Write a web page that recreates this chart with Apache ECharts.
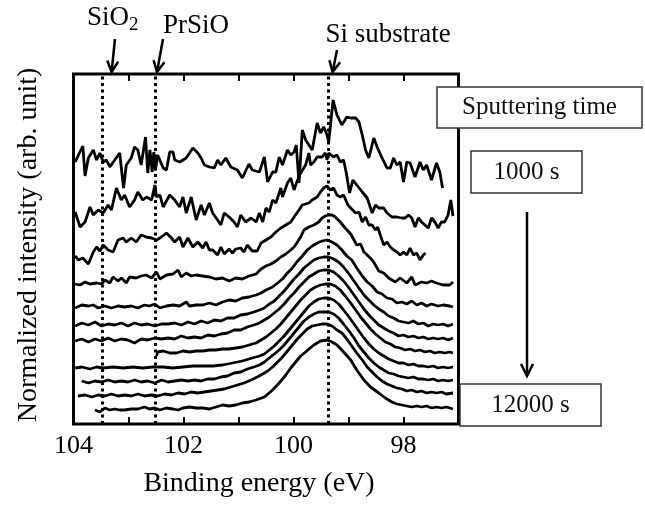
<!DOCTYPE html>
<html><head><meta charset="utf-8">
<script src="https://cdn.jsdelivr.net/npm/echarts@6/dist/echarts.min.js"></script>
<style>html,body{margin:0;padding:0;background:#fff}#c{width:645px;height:505px}</style>
</head><body><div id="c"></div>
<script>
// Binding energy (eV) / normalized intensity (arb. unit), offset spectra, top = 1000 s ... bottom = 12000 s
const s1000 = [[103.97,26.2],[103.83,27.8],[103.79,24.8],[103.73,26.6],[103.64,27.4],[103.58,26.4],[103.52,27.1],[103.46,26.2],[103.40,26.4],[103.34,25.7],[103.25,26.4],[103.16,27.1],[103.13,27.2],[103.09,23.6],[103.04,25.9],[102.95,26.6],[102.89,27.7],[102.83,27.4],[102.77,25.9],[102.69,28.7],[102.65,25.1],[102.61,27.4],[102.57,25.2],[102.54,27.2],[102.51,25.4],[102.47,26.9],[102.37,25.6],[102.31,25.4],[102.25,27.2],[102.19,27.2],[102.16,26.4],[102.07,26.2],[101.95,26.6],[101.83,27.6],[101.74,27.1],[101.68,26.6],[101.62,25.9],[101.53,25.7],[101.44,25.6],[101.38,26.4],[101.32,25.9],[101.23,26.6],[101.14,25.7],[101.02,25.4],[100.93,24.6],[100.90,24.6],[100.81,26.0],[100.75,25.4],[100.62,25.2],[100.53,26.7],[100.47,24.2],[100.38,25.2],[100.32,25.2],[100.26,26.7],[100.20,25.9],[100.11,27.4],[100.05,26.9],[99.99,27.2],[99.95,27.9],[99.90,24.1],[99.84,29.4],[99.78,28.4],[99.72,27.9],[99.66,27.4],[99.57,30.1],[99.51,29.1],[99.45,29.7],[99.39,28.9],[99.36,28.2],[99.28,32.4],[99.21,30.9],[99.12,29.9],[99.03,30.7],[98.96,30.6],[98.87,30.6],[98.81,30.2],[98.75,28.9],[98.69,27.4],[98.63,26.6],[98.54,28.6],[98.48,27.7],[98.39,26.6],[98.30,25.6],[98.24,25.6],[98.18,26.6],[98.12,25.9],[98.06,26.2],[98.00,24.2],[97.94,26.2],[97.88,26.1],[97.79,24.7],[97.70,26.2],[97.64,25.4],[97.58,25.9],[97.49,24.4],[97.40,26.1],[97.34,25.2],[97.29,23.6]];
const s2000 = [[103.97,21.2],[103.88,19.7],[103.79,20.2],[103.70,21.7],[103.64,20.9],[103.55,21.4],[103.46,21.1],[103.37,21.9],[103.31,21.4],[103.22,23.6],[103.13,22.4],[103.07,22.9],[102.98,21.7],[102.89,22.4],[102.83,23.2],[102.74,22.4],[102.67,22.7],[102.58,22.4],[102.52,23.9],[102.49,22.7],[102.43,22.9],[102.37,21.7],[102.25,22.9],[102.16,22.4],[102.07,21.7],[102.01,22.7],[101.95,21.1],[101.86,22.7],[101.77,20.4],[101.68,21.9],[101.62,20.9],[101.53,22.1],[101.47,21.1],[101.38,20.4],[101.32,19.9],[101.26,21.1],[101.17,20.7],[101.08,20.2],[101.02,19.7],[100.96,20.9],[100.87,20.2],[100.77,20.6],[100.68,20.2],[100.62,21.1],[100.56,20.2],[100.50,21.6],[100.44,21.2],[100.38,22.4],[100.32,22.1],[100.23,23.6],[100.20,22.7],[100.11,24.1],[100.05,24.6],[99.99,23.4],[99.94,24.2],[99.87,25.1],[99.78,25.9],[99.72,27.1],[99.69,25.9],[99.63,26.2],[99.57,26.7],[99.48,26.7],[99.42,27.1],[99.39,26.4],[99.36,27.1],[99.27,26.7],[99.21,26.9],[99.15,26.2],[99.09,26.4],[99.04,25.1],[98.98,23.1],[98.92,24.4],[98.85,23.9],[98.75,23.2],[98.66,22.6],[98.57,21.1],[98.51,21.9],[98.45,21.6],[98.36,21.6],[98.30,21.1],[98.21,20.7],[98.12,20.7],[98.03,20.6],[97.97,20.6],[97.91,20.9],[97.85,20.6],[97.79,19.7],[97.73,20.6],[97.67,20.2],[97.61,19.9],[97.55,19.6],[97.49,20.6],[97.43,20.2],[97.37,19.6],[97.31,20.2],[97.25,20.2],[97.19,20.9],[97.14,22.4],[97.10,20.8]];
const s3000 = [[103.97,16.8],[103.91,16.4],[103.83,16.6],[103.73,16.0],[103.64,17.2],[103.58,17.7],[103.52,17.3],[103.46,17.9],[103.37,17.4],[103.28,17.2],[103.19,18.4],[103.10,18.6],[103.04,18.2],[102.95,18.6],[102.86,18.2],[102.77,18.9],[102.68,18.7],[102.58,18.6],[102.49,18.4],[102.40,18.7],[102.31,19.1],[102.22,18.6],[102.16,18.2],[102.07,18.7],[102.01,17.7],[101.92,18.6],[101.83,17.7],[101.74,18.2],[101.65,17.6],[101.59,18.2],[101.53,17.4],[101.47,17.4],[101.38,16.9],[101.32,17.7],[101.26,17.0],[101.17,17.5],[101.11,17.1],[101.05,17.5],[100.96,17.6],[100.90,17.2],[100.84,17.9],[100.75,17.3],[100.66,17.3],[100.59,18.1],[100.50,18.4],[100.41,18.7],[100.32,19.2],[100.23,19.6],[100.14,19.9],[100.05,20.2],[99.99,20.7],[99.90,21.4],[99.84,21.9],[99.78,22.0],[99.72,22.1],[99.66,22.4],[99.57,22.7],[99.51,23.2],[99.45,23.6],[99.39,23.8],[99.33,23.4],[99.27,23.6],[99.21,22.9],[99.15,22.7],[99.09,22.9],[99.01,21.9],[98.96,21.6],[98.87,21.1],[98.81,21.2],[98.75,20.2],[98.69,20.7],[98.63,19.9],[98.57,19.9],[98.51,19.4],[98.47,19.7],[98.41,18.7],[98.36,17.9],[98.30,18.2],[98.24,17.7],[98.18,17.4],[98.12,17.2],[98.06,16.9],[98.00,17.2],[97.94,16.9],[97.88,17.6],[97.82,16.9],[97.76,17.1],[97.70,16.4],[97.64,16.9],[97.60,17.1]];
const s4000 = [[103.97,14.0],[103.88,13.9],[103.79,14.2],[103.70,14.0],[103.58,14.1],[103.49,14.0],[103.43,14.4],[103.34,14.1],[103.28,14.7],[103.19,14.3],[103.13,14.6],[103.04,14.1],[102.98,14.7],[102.86,14.6],[102.77,14.8],[102.68,14.9],[102.58,14.6],[102.49,15.2],[102.43,14.5],[102.31,14.9],[102.19,15.0],[102.10,15.4],[102.04,14.7],[101.95,15.1],[101.86,14.8],[101.77,14.9],[101.65,14.8],[101.53,14.7],[101.41,14.5],[101.29,14.6],[101.17,14.3],[101.05,14.6],[100.93,14.5],[100.81,14.8],[100.68,15.0],[100.59,15.5],[100.50,15.8],[100.41,16.0],[100.32,16.3],[100.23,16.7],[100.14,17.0],[100.05,17.4],[99.99,17.7],[99.94,18.1],[99.87,18.7],[99.81,19.4],[99.72,19.7],[99.63,19.9],[99.54,20.2],[99.48,20.6],[99.42,20.8],[99.36,20.9],[99.30,20.9],[99.24,20.7],[99.15,20.2],[99.06,19.6],[98.96,19.0],[98.90,18.4],[98.85,17.9],[98.78,18.0],[98.72,17.2],[98.66,16.9],[98.57,16.4],[98.51,15.9],[98.45,15.3],[98.36,15.1],[98.27,14.6],[98.15,14.2],[98.06,14.6],[97.94,14.1],[97.85,14.7],[97.79,13.9],[97.67,14.2],[97.58,14.1],[97.49,14.3],[97.40,14.1],[97.28,13.9],[97.16,13.9],[97.10,14.2]];
const s5000 = [[103.97,11.6],[103.85,11.9],[103.73,11.8],[103.64,11.9],[103.55,11.6],[103.43,11.8],[103.31,11.6],[103.19,11.8],[103.07,11.7],[102.95,11.8],[102.83,11.6],[102.71,11.9],[102.62,11.8],[102.52,12.0],[102.43,11.6],[102.31,11.8],[102.19,11.9],[102.07,11.8],[101.95,12.2],[101.89,11.8],[101.77,11.9],[101.65,11.9],[101.53,12.1],[101.41,11.9],[101.29,12.2],[101.17,12.4],[101.05,12.3],[100.93,12.6],[100.81,12.7],[100.68,12.9],[100.59,13.1],[100.50,13.4],[100.38,13.7],[100.29,14.1],[100.20,14.5],[100.11,15.1],[100.02,15.6],[99.94,16.2],[99.84,16.8],[99.75,17.4],[99.66,17.8],[99.57,18.1],[99.48,18.3],[99.39,18.4],[99.30,18.2],[99.21,17.9],[99.12,17.4],[99.03,16.8],[98.94,16.4],[98.85,15.6],[98.75,14.8],[98.66,14.2],[98.57,13.8],[98.48,13.2],[98.39,13.0],[98.30,12.6],[98.21,12.5],[98.12,12.1],[98.03,12.2],[97.94,12.0],[97.85,12.3],[97.76,11.9],[97.67,12.1],[97.58,11.8],[97.49,12.0],[97.37,11.8],[97.28,11.9],[97.16,11.8],[97.10,11.7]];
const s6000 = [[103.97,9.8],[103.85,10.1],[103.73,9.9],[103.61,10.2],[103.49,9.8],[103.37,10.0],[103.25,9.9],[103.13,10.1],[103.01,9.8],[102.89,10.1],[102.77,9.9],[102.65,10.0],[102.52,9.8],[102.40,10.0],[102.28,10.0],[102.16,10.1],[102.04,9.9],[101.92,10.2],[101.80,10.0],[101.68,10.3],[101.56,10.1],[101.44,10.4],[101.32,10.3],[101.20,10.6],[101.08,10.6],[100.96,10.9],[100.84,11.0],[100.72,11.2],[100.62,11.4],[100.53,11.6],[100.44,12.0],[100.35,12.3],[100.26,12.8],[100.17,13.3],[100.08,13.9],[99.99,14.5],[99.90,15.0],[99.81,15.6],[99.72,16.0],[99.63,16.4],[99.54,16.6],[99.45,16.7],[99.36,16.7],[99.27,16.5],[99.18,16.2],[99.09,15.7],[98.99,15.0],[98.90,14.3],[98.81,13.6],[98.72,12.9],[98.63,12.4],[98.54,11.9],[98.45,11.5],[98.36,11.2],[98.27,10.8],[98.18,10.6],[98.09,10.3],[98.00,10.2],[97.91,10.1],[97.82,10.3],[97.73,10.0],[97.64,10.1],[97.55,9.8],[97.46,10.0],[97.37,9.9],[97.28,10.0],[97.19,9.8],[97.10,10.0]];
const s7000 = [[103.97,8.3],[103.85,8.5],[103.73,8.2],[103.61,8.5],[103.49,8.3],[103.37,8.6],[103.25,8.3],[103.13,8.5],[103.01,8.4],[102.89,8.1],[102.77,8.5],[102.65,8.4],[102.52,8.6],[102.40,8.5],[102.28,8.6],[102.16,8.5],[102.04,8.8],[101.92,8.6],[101.80,8.7],[101.68,8.6],[101.56,8.9],[101.44,8.8],[101.32,9.0],[101.20,9.1],[101.08,9.4],[100.96,9.4],[100.84,9.7],[100.72,9.9],[100.62,10.1],[100.53,10.4],[100.44,10.7],[100.35,11.1],[100.26,11.5],[100.17,12.0],[100.08,12.6],[99.99,13.1],[99.90,13.7],[99.81,14.2],[99.72,14.7],[99.63,15.0],[99.54,15.3],[99.45,15.4],[99.36,15.4],[99.27,15.2],[99.18,14.8],[99.09,14.3],[98.99,13.6],[98.90,12.9],[98.81,12.2],[98.72,11.5],[98.63,10.9],[98.54,10.4],[98.45,9.9],[98.36,9.6],[98.27,9.3],[98.18,9.1],[98.09,8.8],[98.00,8.9],[97.91,8.7],[97.82,8.8],[97.73,8.6],[97.64,8.7],[97.55,8.5],[97.46,8.6],[97.37,8.5],[97.28,8.6],[97.19,8.4],[97.10,8.6]];
const s8000 = [[102.49,6.8],[102.47,7.2],[102.37,7.3],[102.25,7.1],[102.13,7.1],[102.01,7.3],[101.89,7.2],[101.77,7.3],[101.65,7.3],[101.53,7.4],[101.41,7.4],[101.29,7.5],[101.17,7.5],[101.05,7.6],[100.93,7.7],[100.81,7.9],[100.68,8.1],[100.59,8.4],[100.50,8.7],[100.41,9.1],[100.32,9.5],[100.23,10.0],[100.14,10.6],[100.05,11.2],[99.96,11.8],[99.87,12.4],[99.78,12.9],[99.69,13.4],[99.60,13.7],[99.51,13.9],[99.42,14.0],[99.33,14.0],[99.24,13.8],[99.15,13.4],[99.06,12.8],[98.96,12.1],[98.87,11.4],[98.78,10.7],[98.69,10.1],[98.60,9.5],[98.51,9.0],[98.42,8.6],[98.33,8.2],[98.24,8.0],[98.15,7.7],[98.06,7.6],[97.97,7.4],[97.88,7.5],[97.79,7.3],[97.70,7.4],[97.61,7.2],[97.52,7.3],[97.43,7.1],[97.34,7.2],[97.25,7.1],[97.16,7.2],[97.10,7.1]];
const s9000 = [[103.97,5.6],[103.85,5.7],[103.70,5.5],[103.58,5.7],[103.46,5.6],[103.28,5.7],[103.10,5.6],[102.92,5.7],[102.74,5.6],[102.56,5.7],[102.37,5.7],[102.19,5.6],[102.01,5.7],[101.83,5.8],[101.65,5.8],[101.47,5.8],[101.29,5.9],[101.11,6.1],[100.93,6.3],[100.75,6.6],[100.62,6.8],[100.53,7.0],[100.44,7.4],[100.35,7.8],[100.26,8.3],[100.17,8.8],[100.08,9.4],[99.99,10.0],[99.90,10.6],[99.81,11.2],[99.72,11.8],[99.63,12.2],[99.54,12.5],[99.45,12.6],[99.36,12.6],[99.27,12.4],[99.18,12.0],[99.09,11.4],[98.99,10.7],[98.90,10.0],[98.81,9.3],[98.72,8.6],[98.63,8.0],[98.54,7.5],[98.45,7.1],[98.36,6.8],[98.27,6.5],[98.18,6.3],[98.09,6.1],[98.00,6.1],[97.91,5.9],[97.82,6.0],[97.73,5.8],[97.64,5.8],[97.55,5.7],[97.46,5.8],[97.37,5.6],[97.28,5.7],[97.19,5.6],[97.10,5.7]];
const s10000 = [[103.85,4.3],[103.73,4.1],[103.61,4.3],[103.49,4.2],[103.37,4.4],[103.25,4.2],[103.13,4.3],[103.01,4.2],[102.89,4.4],[102.77,4.2],[102.65,4.3],[102.52,4.1],[102.40,4.4],[102.28,4.2],[102.16,4.3],[102.04,4.4],[101.92,4.3],[101.80,4.4],[101.68,4.3],[101.56,4.5],[101.44,4.5],[101.32,4.7],[101.20,4.8],[101.08,5.1],[100.96,5.2],[100.84,5.5],[100.72,5.7],[100.62,5.9],[100.53,6.2],[100.44,6.6],[100.35,7.0],[100.26,7.4],[100.17,7.9],[100.08,8.5],[99.99,9.1],[99.90,9.7],[99.81,10.3],[99.72,10.7],[99.63,11.0],[99.54,11.2],[99.45,11.2],[99.36,11.2],[99.27,11.0],[99.18,10.6],[99.09,10.0],[98.99,9.3],[98.90,8.6],[98.81,7.8],[98.72,7.2],[98.63,6.6],[98.54,6.1],[98.45,5.7],[98.36,5.4],[98.27,5.1],[98.18,5.0],[98.09,4.8],[98.00,4.7],[97.91,4.6],[97.82,4.7],[97.73,4.5],[97.64,4.5],[97.55,4.4],[97.46,4.5],[97.37,4.3],[97.28,4.4],[97.19,4.3],[97.10,4.4]];
const s11000 = [[103.92,2.8],[103.79,2.9],[103.67,2.7],[103.55,2.9],[103.43,2.8],[103.31,3.0],[103.19,2.8],[103.07,2.9],[102.95,2.8],[102.83,3.0],[102.71,2.8],[102.58,2.9],[102.47,2.8],[102.34,3.0],[102.22,2.9],[102.10,3.1],[101.98,3.0],[101.86,3.2],[101.74,3.1],[101.62,3.2],[101.50,3.3],[101.38,3.4],[101.26,3.5],[101.14,3.7],[101.02,3.9],[100.90,4.1],[100.77,4.4],[100.66,4.7],[100.56,5.0],[100.47,5.3],[100.38,5.7],[100.29,6.2],[100.20,6.7],[100.11,7.3],[100.02,7.9],[99.93,8.5],[99.84,9.0],[99.75,9.5],[99.66,9.8],[99.57,9.9],[99.48,10.0],[99.39,10.0],[99.30,9.8],[99.21,9.4],[99.12,9.1],[99.03,8.5],[98.94,7.8],[98.85,7.1],[98.75,6.4],[98.66,5.7],[98.57,5.2],[98.48,4.7],[98.39,4.3],[98.30,4.0],[98.21,3.8],[98.12,3.6],[98.03,3.5],[97.94,3.3],[97.85,3.4],[97.76,3.2],[97.67,3.3],[97.58,3.1],[97.49,3.2],[97.40,3.1],[97.31,3.2],[97.22,3.0],[97.10,3.1]];
const s12000 = [[103.61,1.4],[103.52,1.2],[103.43,1.6],[103.34,1.4],[103.25,1.5],[103.16,1.4],[103.07,1.4],[102.95,1.5],[102.83,1.5],[102.71,1.7],[102.62,1.5],[102.52,1.6],[102.43,1.4],[102.31,1.6],[102.19,1.5],[102.10,1.4],[102.01,1.6],[101.89,1.7],[101.77,1.6],[101.65,1.6],[101.53,1.5],[101.41,1.7],[101.29,1.9],[101.17,1.8],[101.05,1.9],[100.93,2.1],[100.81,2.2],[100.68,2.4],[100.53,2.7],[100.38,3.4],[100.26,4.1],[100.14,4.9],[100.05,5.6],[99.96,6.2],[99.87,6.8],[99.78,7.2],[99.72,7.5],[99.63,7.9],[99.51,8.3],[99.39,8.4],[99.30,8.2],[99.21,7.9],[99.09,7.2],[98.96,6.4],[98.85,5.4],[98.72,4.4],[98.60,3.7],[98.45,3.1],[98.33,2.6],[98.21,2.2],[98.12,2.0],[98.03,1.9],[97.94,1.8],[97.85,1.7],[97.76,1.8],[97.67,1.7],[97.58,1.8],[97.49,1.6],[97.40,1.7],[97.31,1.6],[97.22,1.7],[97.10,1.5]];

const spectra = [s1000, s2000, s3000, s4000, s5000, s6000, s7000, s8000, s9000, s10000, s11000, s12000];
const spectraNames = ['1000 s','2000 s','3000 s','4000 s','5000 s','6000 s','7000 s','8000 s','9000 s','10000 s','11000 s','12000 s'];
const refEnergies = [103.47, 102.51, 99.37];   // SiO2, PrSiO, Si substrate
const xLabelTicks = [104, 102, 100, 98];

const FONT = '"Liberation Serif", "Times New Roman", serif';
const chart = echarts.init(document.getElementById('c'), null, {renderer: 'canvas'});

const series = spectra.map((d, i) => ({
  name: spectraNames[i], type: 'line', data: d, showSymbol: false, symbol: 'none',
  lineStyle: {color: '#000', width: 2.8}, itemStyle: {color: '#000'},
  clip: true, silent: true, z: 3,
  markLine: i === 0 ? {
    silent: true, symbol: ['none', 'none'], label: {show: false}, animation: false,
    lineStyle: {color: '#000', width: 3, type: [3, 3.5]},
    data: refEnergies.map(v => ({xAxis: v}))
  } : undefined
}));

const arrowStyle = {stroke: '#000', lineWidth: 2.5, fill: null};
function arrow(x1, y1, x2, y2, head) {
  const dx = x2 - x1, dy = y2 - y1, L = Math.hypot(dx, dy);
  const ux = dx / L, uy = dy / L, bx = x2 - ux * head, by = y2 - uy * head;
  const px = -uy * head * 0.5, py = ux * head * 0.5;
  return [
    {type: 'line', shape: {x1, y1, x2, y2}, style: arrowStyle, z: 10},
    {type: 'polyline', shape: {points: [[bx + px, by + py], [x2, y2], [bx - px, by - py]]}, style: arrowStyle, z: 10}
  ];
}
function box(x, y, w, h, text) {
  return [
    {type: 'rect', shape: {x, y, width: w, height: h}, style: {fill: '#fff', stroke: '#333', lineWidth: 1.5}, z: 20},
    {type: 'text', x: x + w / 2, y: y + h / 2, z: 21,
     style: {text, font: '25px ' + FONT, fill: '#111', align: 'center', verticalAlign: 'middle'}}
  ];
}

chart.setOption({
  animation: false,
  backgroundColor: '#fff',
  grid: {left: 73.5, right: 186.5, top: 74, bottom: 81, show: true, borderColor: '#000', borderWidth: 3, backgroundColor: 'transparent'},
  xAxis: [{
    type: 'value', min: 97, max: 104, interval: 1, inverse: true, position: 'bottom',
    axisLine: {show: false}, splitLine: {show: false},
    axisTick: {show: true, inside: true, length: 7, lineStyle: {color: '#000', width: 2}},
    axisLabel: {color: '#000', fontFamily: FONT, fontSize: 26, margin: 9,
      formatter: v => xLabelTicks.indexOf(v) >= 0 ? String(v) : ''},
    name: 'Binding energy (eV)', nameLocation: 'middle', nameGap: 46,
    nameTextStyle: {color: '#000', fontFamily: FONT, fontSize: 28, padding: [0, 14, 0, 0]}
  }, {
    type: 'value', min: 97, max: 104, interval: 1, inverse: true, position: 'top',
    axisLine: {show: false}, splitLine: {show: false}, axisLabel: {show: false},
    axisTick: {show: true, inside: true, length: 7, lineStyle: {color: '#000', width: 2}}
  }],
  yAxis: {
    type: 'value', min: 0, max: 35, axisLine: {show: false}, axisTick: {show: false},
    axisLabel: {show: false}, splitLine: {show: false},
    name: 'Normalized intensity (arb. unit)', nameLocation: 'middle', nameGap: 31,
    nameTextStyle: {color: '#000', fontFamily: FONT, fontSize: 28, padding: [0, 0, 0, 8]}
  },
  series,
  graphic: [
    {type: 'text', x: 87, y: 18, z: 10, style: {
      text: '{m|SiO}{s|2}', fill: '#000', align: 'left', verticalAlign: 'middle',
      rich: {m: {fontFamily: FONT, fontSize: 27, fill: '#000'},
             s: {fontFamily: FONT, fontSize: 19, fill: '#000', padding: [14, 0, 0, 0]}}}},
    {type: 'text', x: 196, y: 26, z: 10, style: {text: 'PrSiO', font: '27px ' + FONT, fill: '#000', align: 'center', verticalAlign: 'middle'}},
    {type: 'text', x: 388, y: 35, z: 10, style: {text: 'Si substrate', font: '27px ' + FONT, fill: '#000', align: 'center', verticalAlign: 'middle'}},
    ...arrow(115, 39, 111.6, 72, 11),
    ...arrow(163, 39, 157, 72, 11),
    ...arrow(337, 50, 332.6, 72, 11),
    ...box(437, 87, 205, 41, 'Sputtering time'),
    ...box(471, 151, 111, 42, spectraNames[0]),
    ...box(460, 384, 141, 42, spectraNames[spectraNames.length - 1]),
    ...arrow(527, 212, 527, 376, 12)
  ]
});
</script>
</body></html>
